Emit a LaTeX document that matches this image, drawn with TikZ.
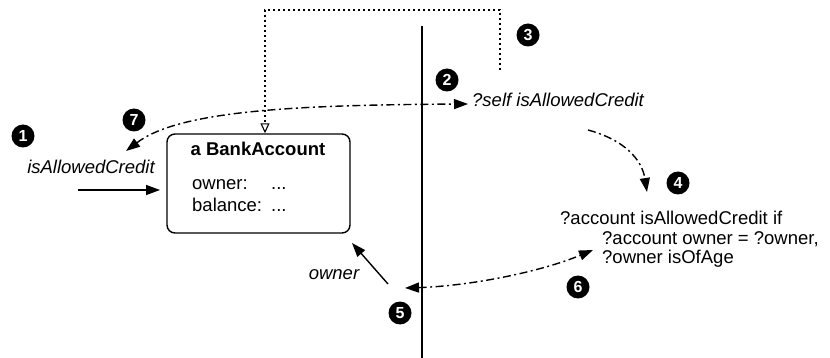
\documentclass[tikz,border=0pt]{standalone}
\usepackage{fontspec}
\setmainfont{Liberation Sans}
\usetikzlibrary{arrows.meta}
\begin{document}
\begin{tikzpicture}[x=1pt,y=-1pt,
  every node/.style={font=\fontsize{18.5}{21}\selectfont, inner sep=0pt},
  bullet/.style={circle, fill=black, text=white, minimum size=23pt, inner sep=0pt,
                 font=\fontsize{16}{16}\selectfont\bfseries},
  solidarrow/.style={line width=1.4pt, -{Triangle[length=14pt,width=10pt]}},
  dashdot/.style={line width=1.4pt, dash pattern=on 8pt off 3.5pt on 2pt off 3.5pt},
  dashdotarrow/.style={dashdot, -{Triangle[length=14pt,width=10pt]}},
  dashdotboth/.style={dashdot, {Triangle[length=14pt,width=10pt]}-{Triangle[length=14pt,width=10pt]}},
  dotline/.style={line width=1.4pt, dash pattern=on 1.8pt off 3.2pt, -{Triangle[open,length=10pt,width=9pt,line width=1.1pt]}},
  objbox/.style={draw, line width=1.4pt, rounded corners=8pt, minimum width=183pt, minimum height=99pt}
]
\path[fill=white,use as bounding box] (0,0) rectangle (830,358);

% object box
\node[objbox] (box) at (258.5,183.5) {};
\node[font=\fontsize{18.5}{21}\selectfont\bfseries, anchor=base] (title) at (258,156) {a BankAccount};
\node[anchor=base west] (slots) at (192,190) {\begin{tabular}[t]{@{}l@{\hspace{9pt}}l@{}}owner: & ...\\ balance: & ...\end{tabular}};

% separator line
\coordinate (vtop) at (422,26);
\coordinate (vbot) at (422,358);
\draw[line width=1.5pt] (vtop) -- (vbot);

% labels
\node[font=\fontsize{18.5}{21}\selectfont\itshape, anchor=base] (msg) at (91,174) {isAllowedCredit};
\node[font=\fontsize{18.5}{21}\selectfont\itshape, anchor=base west] (self) at (472,107) {?self isAllowedCredit};
\node[font=\fontsize{18.5}{21}\selectfont\itshape, anchor=base] (ownerlbl) at (334,279) {owner};
\node[anchor=base west] (rule1) at (560,225) {?account isAllowedCredit if};
\node[anchor=base west] (rule2) at (602,244) {?account owner = ?owner,};
\node[anchor=base west] (rule3) at (602,263) {?owner isOfAge};

% bullets
\node[bullet] (b1) at (23,136) {1};
\node[bullet] (b2) at (447,80) {2};
\node[bullet] (b3) at (528,35) {3};
\node[bullet] (b4) at (678,183) {4};
\node[bullet] (b5) at (400,313) {5};
\node[bullet] (b6) at (578,287) {6};
\node[bullet] (b7) at (134,120) {7};

% incoming message
\coordinate (inS) at (78,190);
\coordinate (inE) at (160,190);
\draw[solidarrow] (inS) -- (inE);

% dotted lookup path
\coordinate (d1) at (500,70);
\coordinate (d2) at (500,10);
\coordinate (d3) at (265,10);
\draw[dotline] (d1) -- (d2) -- (d3) -- (d3 |- box.north);

% 2 <-> 7
\coordinate (c2) at (468,104);
\coordinate (c7) at (126,151);
\draw[dashdotboth] (c7) .. controls (180,110) and (300,105) .. (c2);

% 3 -> 4
\coordinate (c3) at (588,130);
\coordinate (c4) at (647,192);
\draw[dashdotarrow] (c3) .. controls (625,140) and (642,160) .. (c4);

% owner arrow
\coordinate (o1) at (388,284);
\coordinate (o2) at (352,243);
\draw[solidarrow] (o1) -- (o2);

% 5 <-> 6
\coordinate (c5) at (405,288);
\coordinate (c6) at (593,250);
\draw[dashdotboth] (c5) .. controls (470,286) and (540,272) .. (c6);
\end{tikzpicture}
\end{document}
